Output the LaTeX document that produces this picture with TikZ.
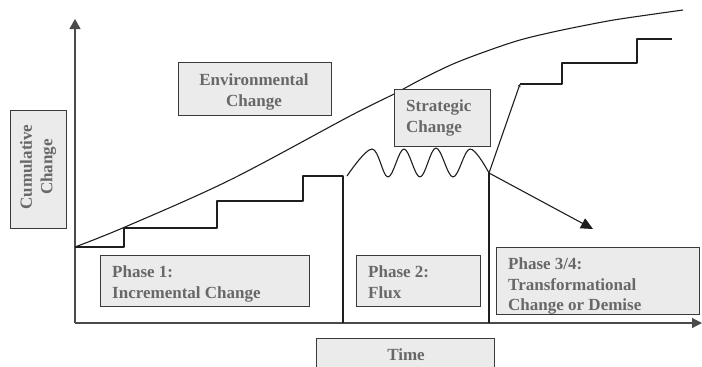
\documentclass[tikz,border=0pt]{standalone}
\usepackage{fontspec}
\setmainfont{Liberation Serif}
\usetikzlibrary{arrows.meta}
\definecolor{boxfill}{HTML}{EBEBEB}
\definecolor{boxline}{HTML}{3A3A3A}
\definecolor{txtgray}{HTML}{686868}
\definecolor{lncol}{HTML}{1E1E1E}
\definecolor{axcol}{HTML}{4A4A4A}
\begin{document}
\begin{tikzpicture}[x=1pt,y=-1pt,
  box/.style={draw=boxline, fill=boxfill, line width=1.1pt, inner sep=0pt, anchor=north west},
  lbl/.style={text=txtgray, font=\fontsize{17}{20.5}\selectfont\bfseries, inner sep=0pt, align=left},
  curveline/.style={draw=lncol, line width=1.1pt, line join=round},
  axisline/.style={draw=axcol, line width=1.2pt}]
\useasboundingbox (0,0) rectangle (702,367);

% key points
\coordinate (orig) at (75,323);
\coordinate (ytip) at (75,19);
\coordinate (xtip) at (702,323);
\coordinate (start) at (75,247);
\coordinate (fluxL) at (343,176);
\coordinate (fluxLb) at (343,323);
\coordinate (pivot) at (489,173);
\coordinate (pivotb) at (489,323);
\coordinate (downtip) at (593,229);
\coordinate (uptip) at (520,84);

% axes
\draw[axisline, -{Triangle[length=10pt,width=11pt]}] (orig) -- (ytip);
\draw[axisline, -{Triangle[length=10pt,width=10pt]}] (orig) -- (xtip);

% environmental change curve
\draw[curveline] plot[smooth, tension=0.55] coordinates {(75,247) (125,227) (230,180) (350,116) (394,94) (420,80) (453,64) (487,51) (520,40) (553,32) (587,25) (620,19) (683,10)};

% phase 1 staircase
\draw[curveline] (start) -- (124,247) -- (124,228) -- (217,228) -- (217,201) -- (303,201) -- (303,176) -- (fluxL) -- (fluxLb);

% flux wave
\draw[curveline] plot[smooth, tension=0.6] coordinates {(347,176) (372,149) (388,177) (404,149) (420,177) (436,148) (453,177) (470,149) (pivot)};
\draw[curveline] (pivot) -- (pivotb);

% transformation / demise
\draw[curveline, -{Stealth[length=3pt,width=3pt]}] (pivot) -- (uptip);
\draw[curveline] (uptip) -- (562,84) -- (562,63) -- (637,63) -- (637,39) -- (672,39);
\draw[curveline, -{Triangle[length=12pt,width=11pt]}] (pivot) -- (downtip);

% boxes
\node[box, minimum width=56pt, minimum height=118pt] (cumbox) at (10,110) {};
\node[box, minimum width=153pt, minimum height=53pt] (envbox) at (178,62) {};
\node[box, minimum width=96pt, minimum height=57pt] (stratbox) at (394,89) {};
\node[box, minimum width=209pt, minimum height=51pt] (p1box) at (100,255) {};
\node[box, minimum width=124pt, minimum height=51pt] (p2box) at (356,255) {};
\node[box, minimum width=203pt, minimum height=67pt] (p3box) at (496,247) {};
\node[box, minimum width=178pt, minimum height=45pt] (timebox) at (316,338) {};

% labels
\node[lbl, align=center, rotate=90] (cumtxt) at (38,167) {Cumulative\\Change};
\node[lbl, align=center, anchor=north] (envtxt) at (254,74) {Environmental\\Change};
\node[lbl, anchor=north west] (strattxt) at (406,100) {Strategic\\Change};
\node[lbl, anchor=north west] (p1txt) at (112,266) {Phase 1:\\Incremental Change};
\node[lbl, anchor=north west] (p2txt) at (368,266) {Phase 2:\\Flux};
\node[lbl, anchor=north west] (p3txt) at (508,258) {Phase 3/4:\\Transformational\\Change or Demise};
\node[lbl, anchor=north] (timetxt) at (406,349) {Time};
\end{tikzpicture}
\end{document}
